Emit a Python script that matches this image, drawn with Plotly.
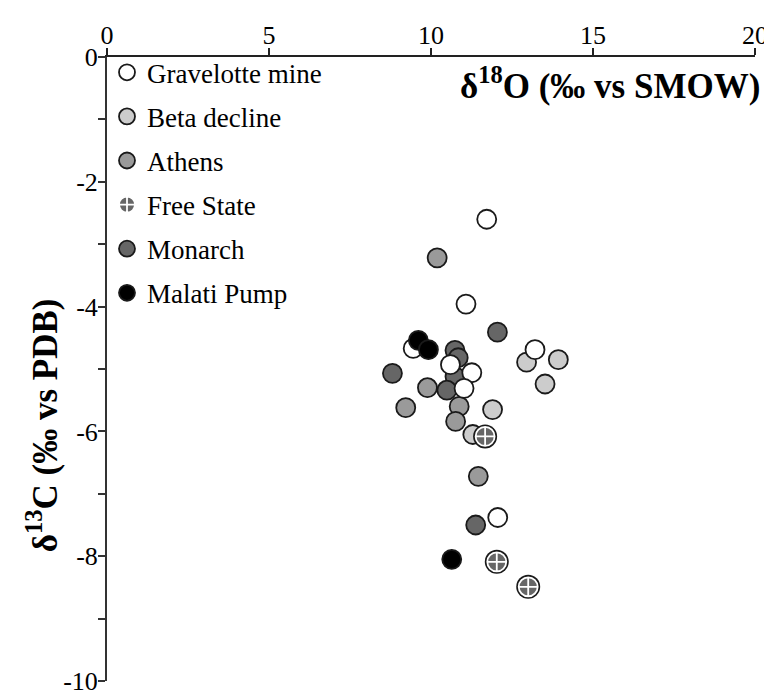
import plotly.graph_objects as go

# ---- data ----
grav_x = [11.72, 11.08, 9.45, 10.60, 11.26, 11.02, 13.21, 12.06]
grav_y = [-2.60, -3.96, -4.67, -4.93, -5.06, -5.31, -4.69, -7.38]

beta_x = [12.95, 13.93, 13.52, 11.90, 11.29]
beta_y = [-4.89, -4.85, -5.24, -5.65, -6.05]

athens_x = [10.19, 9.89, 9.22, 10.87, 10.76, 11.46]
athens_y = [-3.22, -5.30, -5.62, -5.60, -5.84, -6.72]

free_x = [11.67, 12.03, 13.00]
free_y = [-6.08, -8.09, -8.49]

monarch_x = [12.05, 10.74, 10.84, 10.74, 10.49, 8.81, 11.38]
monarch_y = [-4.41, -4.70, -4.82, -5.12, -5.34, -5.07, -7.50]

malati_x = [9.61, 9.92, 10.64]
malati_y = [-4.54, -4.69, -8.05]

x_ticks = [0, 5, 10, 15, 20]
y_ticks = [0, -1, -2, -3, -4, -5, -6, -7, -8, -9, -10]
y_ticktext = ["0", "", "-2", "", "-4", "", "-6", "", "-8", "", "-10"]

FONT = "Liberation Serif"
SZ = 19
OUT = "#1a1a1a"

fig = go.Figure()

def add(name, xs, ys, fill, rank, symbol="circle", line_color=OUT):
    fig.add_trace(go.Scatter(
        x=xs, y=ys, mode="markers", name=name, legendrank=rank,
        legendgroup=name,
        marker=dict(symbol=symbol, size=SZ, color=fill,
                    line=dict(color=line_color, width=1.8)),
    ))

add("Monarch", monarch_x, monarch_y, "#666666", 5)
add("Athens", athens_x, athens_y, "#9a9a9a", 3)
add("Beta decline", beta_x, beta_y, "#cccccc", 2)
add("Gravelotte mine", grav_x, grav_y, "#ffffff", 1)
# dark ring behind the Free State markers
fig.add_trace(go.Scatter(
    x=free_x, y=free_y, mode="markers", showlegend=False, hoverinfo="skip",
    marker=dict(symbol="circle", size=SZ + 5, color=OUT, line=dict(width=0)),
))
add("Free State", free_x, free_y, "#666666", 4, symbol="circle-cross",
    line_color="#ffffff")
add("Malati Pump", malati_x, malati_y, "#000000", 6)

fig.update_layout(
    width=764, height=683,
    margin=dict(l=99, r=17, t=49, b=10),
    paper_bgcolor="white", plot_bgcolor="white",
    font=dict(family=FONT, size=26, color="black"),
    showlegend=True,
    legend=dict(x=0.0, y=1.014, xanchor="left", yanchor="top",
                bgcolor="rgba(0,0,0,0)", borderwidth=0,
                font=dict(family=FONT, size=27, color="black"),
                traceorder="grouped", tracegroupgap=6,
                itemsizing="trace"),
    xaxis=dict(range=[0, 20], side="top", tickvals=x_ticks,
               ticks="outside", ticklen=7, tickwidth=1.5, tickcolor="#222",
               showline=True, linecolor="#222", linewidth=2,
               showgrid=False, zeroline=False, automargin=False,
               ticklabeloverflow="allow", ticklabelstandoff=-6,
               tickfont=dict(family=FONT, size=26)),
    yaxis=dict(range=[-10, 0], tickvals=y_ticks, ticktext=y_ticktext,
               ticks="outside", ticklen=7, tickwidth=1.5, tickcolor="#333",
               showline=True, linecolor="#333", linewidth=2,
               showgrid=False, zeroline=False, automargin=False,
               ticklabeloverflow="allow", ticklabelstandoff=-5,
               tickfont=dict(family=FONT, size=26)),
    annotations=[
        dict(text="<b>δ<sup>18</sup>O (‰ vs SMOW)</b>", xref="paper", yref="paper",
             x=1.011, y=0.957, xanchor="right", yanchor="middle", showarrow=False,
             font=dict(family=FONT, size=35, color="black")),
        dict(text="<b>δ<sup>13</sup>C (‰ vs PDB)</b>", xref="paper", yref="paper",
             x=-0.1, y=1 - (417 - 49) / 624, xanchor="center", yanchor="middle",
             textangle=-90, showarrow=False,
             font=dict(family=FONT, size=35, color="black")),
    ],
)

fig.write_html("out.html")
